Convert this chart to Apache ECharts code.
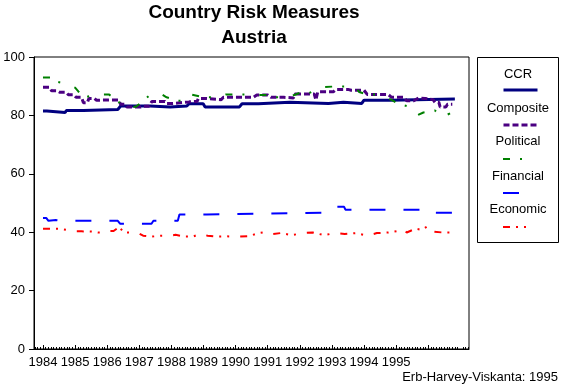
<!DOCTYPE html>
<html>
<head>
<meta charset="utf-8">
<script src="https://cdn.jsdelivr.net/npm/echarts@6/dist/echarts.min.js"></script>
<style>
html,body{margin:0;padding:0;background:#fff;}
#chart{width:564px;height:389px;}
</style>
</head>
<body>
<div id="chart"></div>
<script>
// ---------- data ----------
const seriesNames = ['CCR', 'Composite', 'Political', 'Financial', 'Economic'];
const yearLabels = [1984,1985,1986,1987,1988,1989,1990,1991,1992,1993,1994,1995];

const ccrX = [1984.0,1984.12,1984.16,1984.69,1984.73,1985.26,1985.3,1986.33,1986.42,1987.33,1987.37,1987.96,1988.0,1988.48,1988.55,1988.99,1989.05,1990.12,1990.2,1990.71,1990.75,1991.69,1991.73,1992.89,1992.93,1993.36,1993.4,1993.93,1994.0,1994.81,1994.85,1996.83];
const ccrY = [81.5,81.5,81.0,81.0,81.7,81.7,82.0,82.0,83.2,83.2,82.9,82.9,83.2,83.2,84.0,84.0,82.9,82.9,84.0,84.0,84.5,84.5,84.1,84.1,84.5,84.5,84.1,84.1,85.2,85.2,85.6,85.6];

const compositeX = [1984.0,1984.2,1984.27,1984.45,1984.53,1984.72,1984.79,1984.95,1985.03,1985.2,1985.26,1985.38,1985.43,1985.6,1985.67,1986.15,1986.35,1986.42,1986.55,1986.61,1987.05,1987.12,1987.3,1987.39,1987.8,1987.85,1988.05,1988.11,1988.55,1988.63,1988.8,1988.84,1989.05,1989.1,1989.55,1989.62,1990.55,1990.66,1991.0,1991.1,1991.5,1991.55,1991.8,1991.85,1992.45,1992.5,1992.56,1993.05,1993.13,1993.5,1993.6,1994.0,1994.1,1994.75,1994.86,1995.25,1995.33,1995.55,1995.7,1995.9,1996.15,1996.21,1996.33,1996.37,1996.55,1996.6,1996.75];
const compositeY = [89.6,89.6,88.4,88.4,87.9,87.9,87.1,87.1,86.2,86.2,84.3,84.3,85.8,85.8,85.2,85.3,85.3,83.8,83.8,82.9,82.9,83.1,83.1,84.8,84.8,84.1,84.1,84.6,84.6,84.8,84.8,85.8,85.8,85.4,85.4,86.2,86.2,87.0,87.0,86.2,86.2,86.0,86.0,87.3,87.3,85.3,88.1,88.1,88.9,88.9,88.6,88.6,87.2,87.2,86.2,86.2,85.0,85.0,86.0,85.8,85.4,84.5,84.5,82.9,82.9,83.8,83.8];

const politicalX = [1984.0,1984.3,1984.45,1984.7,1985.0,1985.1,1985.3,1985.7,1986.05,1986.3,1986.5,1986.9,1987.1,1987.35,1987.7,1987.85,1988.2,1988.45,1988.6,1989.0,1989.45,1989.7,1990.3,1990.5,1991.0,1991.3,1991.5,1991.7,1992.0,1992.3,1992.66,1993.07,1993.72,1993.85,1994.08,1994.4,1994.86,1995.06,1995.4,1995.67,1995.85,1996.21,1996.42,1996.68];
const politicalY = [93.0,93.0,91.5,90.9,89.5,88.2,86.2,87.2,87.2,85.3,83.0,83.0,84.8,87.2,87.2,86.2,85.0,85.0,87.2,86.2,86.2,87.2,87.2,87.0,87.0,86.2,86.2,86.5,87.7,87.7,89.6,89.9,89.9,88.0,87.2,87.2,85.3,84.0,83.0,80.1,81.0,81.7,79.3,80.7];

const financialX = [1984.0,1984.1,1984.17,1984.4,1984.5,1986.33,1986.4,1987.38,1987.44,1988.2,1988.25,1989.1,1989.15,1992.85,1992.91,1993.15,1993.2,1993.38,1993.42,1996.0,1996.06,1996.83];
const financialY = [44.9,44.9,43.9,44.2,43.9,43.9,42.9,42.9,43.9,43.9,46.1,46.1,46.7,46.7,47.6,48.7,48.7,48.7,47.7,47.7,46.7,46.7];

const economicX = [1984.0,1984.35,1984.5,1984.74,1985.03,1985.2,1985.26,1985.52,1985.72,1986.0,1986.1,1986.2,1986.3,1986.38,1986.5,1986.68,1986.93,1987.12,1987.39,1987.7,1987.94,1988.13,1988.42,1988.67,1988.89,1989.13,1989.41,1989.72,1989.9,1990.14,1990.45,1990.67,1990.92,1991.1,1991.4,1991.75,1992.1,1992.4,1992.75,1993.1,1993.4,1993.75,1994.1,1994.4,1994.75,1995.1,1995.2,1995.33,1995.6,1995.8,1996.0,1996.14,1996.45,1996.7];
const economicY = [41.2,41.2,41.2,40.8,40.3,40.3,39.9,40.2,39.9,39.9,40.4,40.4,41.2,41.9,40.0,39.9,39.9,38.8,38.5,38.8,38.8,39.1,38.5,38.5,39.4,38.8,38.5,38.6,38.5,38.5,38.7,39.6,40.0,39.3,39.7,39.0,39.7,39.9,39.0,39.7,39.4,39.7,38.8,39.7,39.9,40.5,41.2,39.9,41.2,40.8,42.2,40.2,39.9,39.9];

const sourceNote = 'Erb-Harvey-Viskanta: 1995';
const titleText = 'Country Risk Measures\nAustria';

// ---------- chart ----------
const zip = (xs, ys) => xs.map((x, i) => [x, ys[i]]);
const FONT = 'Liberation Sans, Arial, sans-serif';

const styles = {
  CCR:       {color: '#000080', width: 3, type: 'solid'},
  Composite: {color: '#4B0082', width: 3, type: [6, 3]},
  Political: {color: '#008000', width: 2, type: [7, 10, 2, 15]},
  Financial: {color: '#0000FF', width: 2, type: [16, 18]},
  Economic:  {color: '#FF0000', width: 2, type: [7, 6, 2, 6, 2, 11]}
};
const dataMap = {
  CCR: zip(ccrX, ccrY),
  Composite: zip(compositeX, compositeY),
  Political: zip(politicalX, politicalY),
  Financial: zip(financialX, financialY),
  Economic: zip(economicX, economicY)
};

const xMin = 1983.72, xMax = 1997.27;
const majorTicks = yearLabels.concat([1996]);
const minorTicks = [];
for (let y = 1983; y <= 1997; y++) {
  for (let m = 1; m < 12; m++) {
    const v = y + m / 12;
    if (v > xMin && v < xMax) minorTicks.push(v);
  }
}

const legendTops = [90, 125, 159, 193, 227];
const labelYs = [74, 108, 141, 176, 209];

const option = {
  animation: false,
  backgroundColor: '#fff',
  textStyle: {fontFamily: FONT},
  title: {
    text: titleText,
    left: 254, top: 0, textAlign: 'center', padding: 0,
    textStyle: {fontFamily: FONT, fontSize: 19, fontWeight: 'bold', color: '#000', lineHeight: 25}
  },
  grid: {left: 34, right: 95, top: 57, bottom: 40, show: true, borderColor: '#000', borderWidth: 1, backgroundColor: 'transparent'},
  xAxis: [{
    type: 'value', min: xMin, max: xMax,
    axisLine: {show: true, lineStyle: {color: '#000', width: 1}},
    splitLine: {show: false},
    axisTick: {show: true, inside: true, length: 4, customValues: majorTicks, lineStyle: {color: '#000'}},
    axisLabel: {show: true, customValues: yearLabels, formatter: v => String(Math.round(v)), color: '#000', fontSize: 13, fontFamily: FONT, margin: 7, hideOverlap: false}
  }, {
    type: 'value', min: xMin, max: xMax, position: 'bottom',
    axisLine: {show: false},
    splitLine: {show: false},
    axisTick: {show: true, inside: true, length: 2, customValues: minorTicks, lineStyle: {color: '#000'}},
    axisLabel: {show: false}
  }],
  yAxis: {
    type: 'value', min: 0, max: 100, interval: 20,
    axisLine: {show: true, lineStyle: {color: '#000', width: 1}},
    splitLine: {show: false},
    axisTick: {show: true, inside: false, length: 5, lineStyle: {color: '#000'}},
    axisLabel: {color: '#000', fontSize: 13, fontFamily: FONT, margin: 9}
  },
  legend: seriesNames.map((n, i) => ({
    data: [n], orient: 'vertical', left: 502, top: legendTops[i] - 7,
    itemWidth: 34, itemHeight: 14, padding: 0, selectedMode: false,
    itemStyle: {opacity: 0, borderWidth: 0},
    lineStyle: {width: 'inherit', type: 'inherit', opacity: 1},
    formatter: () => '', textStyle: {fontSize: 1}
  })),
  graphic: [
    {type: 'rect', shape: {x: 477.5, y: 57.5, width: 81, height: 185}, style: {fill: 'none', stroke: '#000', lineWidth: 1}, silent: true},
    ...seriesNames.map((n, i) => ({
      type: 'text', x: 518, y: labelYs[i],
      style: {text: n, fill: '#000', font: '13px ' + FONT, textAlign: 'center', textVerticalAlign: 'middle'}
    })),
    {type: 'text', x: 558, y: 377, style: {text: sourceNote, fill: '#000', font: '13px ' + FONT, textAlign: 'right', textVerticalAlign: 'middle'}}
  ],
  series: seriesNames.map(n => ({
    name: n, type: 'line', data: dataMap[n], xAxisIndex: 0,
    symbol: 'none', showSymbol: false, smooth: false,
    color: styles[n].color,
    lineStyle: {color: styles[n].color, width: styles[n].width, type: styles[n].type, cap: 'butt'},
    emphasis: {disabled: true}
  }))
};

const chart = echarts.init(document.getElementById('chart'), null, {renderer: 'canvas'});
chart.setOption(option);
</script>
</body>
</html>
